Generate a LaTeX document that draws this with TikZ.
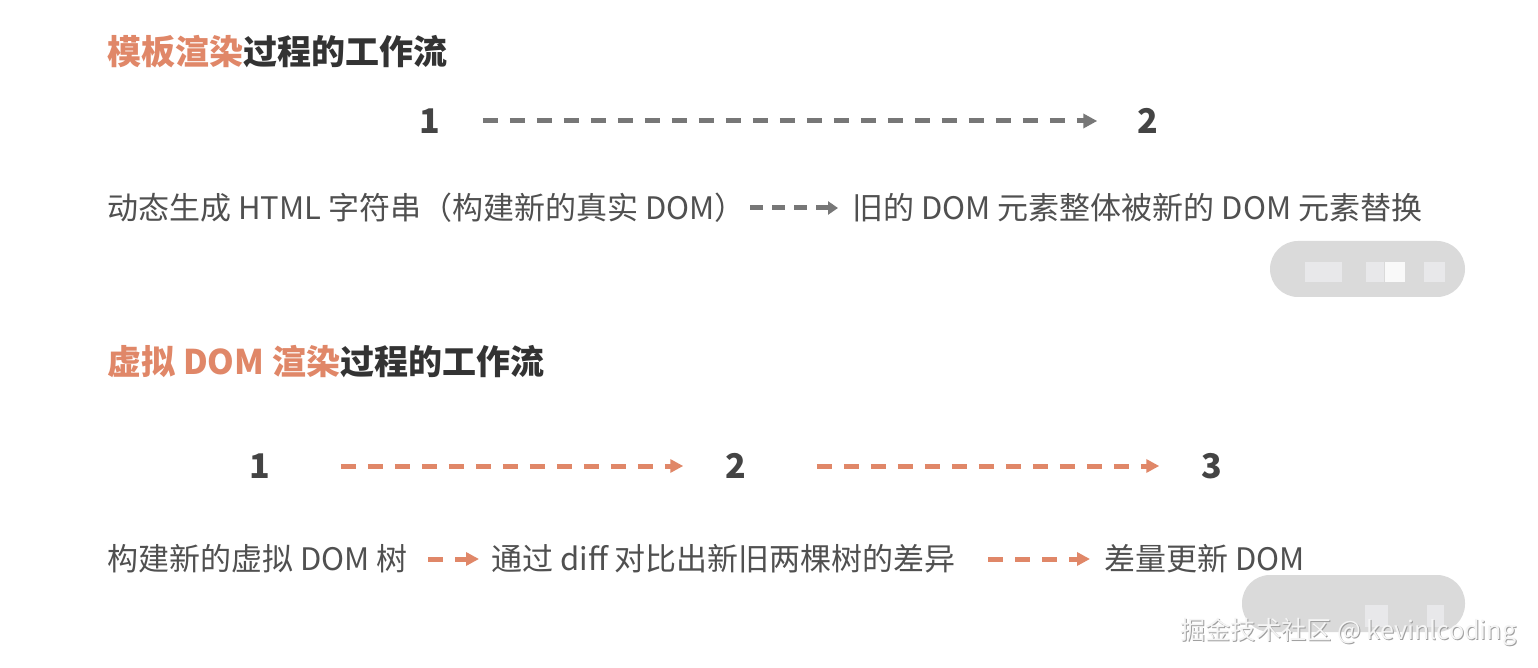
\documentclass[tikz,border=0pt]{standalone}
\usepackage{fontspec}
\setmainfont{Noto Sans CJK SC}
\usetikzlibrary{arrows.meta}
\definecolor{orng}{HTML}{E08768}
\definecolor{txt}{HTML}{505050}
\definecolor{ttl}{HTML}{333333}
\definecolor{num}{HTML}{444444}
\definecolor{garr}{HTML}{777777}
\definecolor{pillc}{HTML}{DADADA}
\definecolor{pillsq}{HTML}{E8E8EA}
\tikzset{
  titletext/.style={anchor=west, inner sep=0pt, text=ttl, font=\fontsize{17pt}{20pt}\selectfont\bfseries},
  bodytext/.style={anchor=west, inner sep=0pt, text=txt, font=\fontsize{15.5pt}{18pt}\selectfont},
  numtext/.style={inner sep=0pt, text=num, font=\fontsize{17pt}{20pt}\selectfont\bfseries},
  grayarrow/.style={draw=garr, line width=2.5pt, dash pattern=on 7.5pt off 6pt, -{Triangle[length=7pt,width=7pt]}},
  orangearrow/.style={draw=orng, line width=2.5pt, dash pattern=on 7.5pt off 6pt, -{Triangle[length=6.5pt,width=6.5pt]}},
  pillshape/.style={fill=pillc, draw=none, rounded corners=14pt},
  pillbit/.style={fill=pillsq, draw=none},
  markfront/.style={anchor=west, inner sep=0pt, text=white!92!gray, font=\fontsize{12.6pt}{16pt}\selectfont},
  markback/.style={anchor=west, inner sep=0pt, text=gray!75, font=\fontsize{12.6pt}{16pt}\selectfont},
}
\begin{document}
\begin{tikzpicture}[x=0.5pt,y=-0.5pt]
\useasboundingbox[fill=white] (0,0) rectangle (1538,668);

% ---- section 1
\node[titletext] (title1) at (107,52) {{\color{orng}模板渲染}过程的工作流};
\node[numtext] (s1) at (430,121) {1};
\node[numtext] (s2) at (1148,121) {2};
\draw[grayarrow] ([xshift=21pt]s1.east) -- ([xshift=-20pt]s2.west);

\node[bodytext] (l1a) at (107,208) {动态生成 HTML 字符串（构建新的真实 DOM）};
\node[bodytext] (l1b) at (852,208) {旧的 DOM 元素整体被新的 DOM 元素替换};
\draw[grayarrow, dash pattern=on 6.5pt off 4.5pt, -{Triangle[length=5pt,width=6.5pt]}] ([xshift=2pt]l1a.east) -- ([xshift=-7pt]l1b.west);

\fill[pillshape] (1270,241) rectangle (1465,297);
\fill[pillbit] (1305,262) rectangle (1324,282);
\fill[pillbit] (1324,262) rectangle (1342,282);
\fill[pillbit] (1366,262) rectangle (1384,282);
\fill[white!95!gray] (1385,262) rectangle (1405,282);
\fill[pillbit] (1424,262) rectangle (1445,282);

% ---- section 2
\node[titletext] (title2) at (107,362) {{\color{orng}虚拟 DOM 渲染}过程的工作流};
\node[numtext] (t1) at (260,466) {1};
\node[numtext] (t2) at (736,466) {2};
\node[numtext] (t3) at (1212,466) {3};
\draw[orangearrow] ([xshift=35pt]t1.east) -- ([xshift=-21pt]t2.west);
\draw[orangearrow] ([xshift=35pt]t2.east) -- ([xshift=-21pt]t3.west);

\node[bodytext] (b1) at (107,559) {构建新的虚拟 DOM 树};
\node[bodytext] (b2) at (491,559) {通过 diff 对比出新旧两棵树的差异};
\node[bodytext] (b3) at (1104,559) {差量更新 DOM};
\draw[orangearrow] ([xshift=10pt]b1.east) -- ([xshift=-6pt]b2.west);
\draw[orangearrow] ([xshift=16pt]b2.east) -- ([xshift=-7pt]b3.west);

\fill[pillshape] (1242,575) rectangle (1465,632);
\fill[pillbit] (1365,605) rectangle (1388,627);
\fill[pillbit] (1427,605) rectangle (1444,627);

\node[markback] (wmb) at (1181,633) {掘金技术社区 @ kevinlcoding};
\node[markfront] (wm) at (1180,632) {掘金技术社区 @ kevinlcoding};
\end{tikzpicture}
\end{document}
